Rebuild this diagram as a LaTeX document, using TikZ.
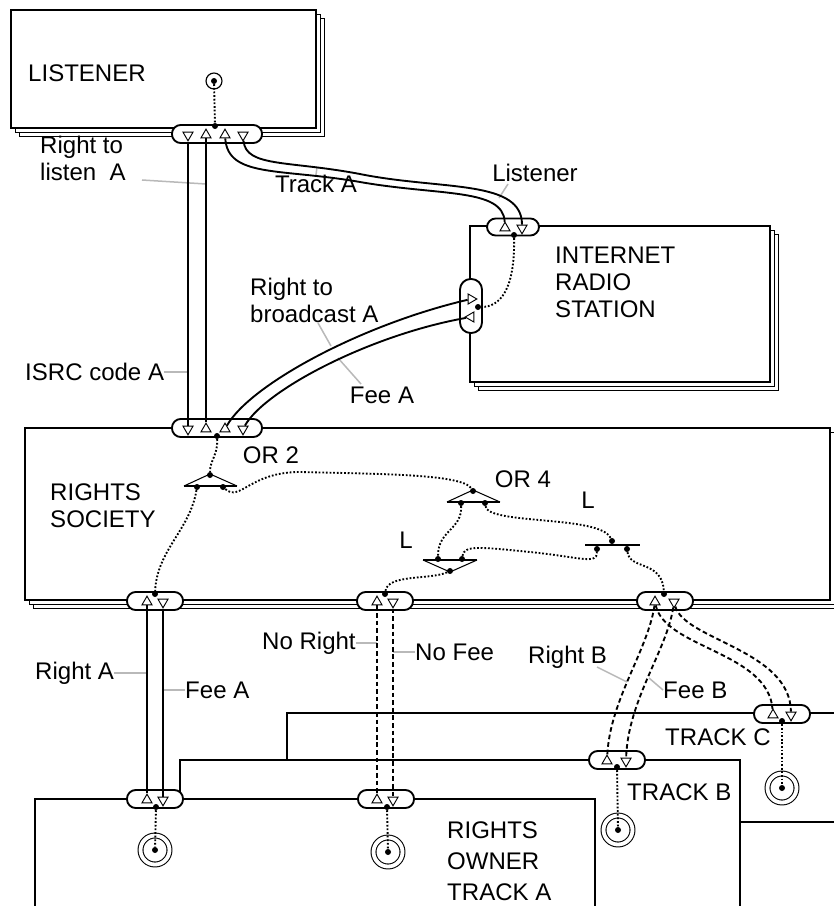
\documentclass[tikz,border=0pt]{standalone}
\usepackage{fontspec}
\setmainfont{Liberation Sans}
\usetikzlibrary{shapes.geometric,shadows}

\tikzset{
  actor/.style={draw, line width=1.6pt, fill=white},
  segment/.style={actor, double copy shadow={shadow xshift=1.2mm, shadow yshift=-1.2mm}},
  iface/.style={draw, line width=1.6pt, fill=white, rounded corners=2.6mm, inner sep=0pt,
    minimum width=16.8mm, minimum height=5.4mm},
  wide/.style={minimum width=27mm},
  up/.style={regular polygon, regular polygon sides=3, draw, line width=0.8pt, fill=white,
    inner sep=0pt, minimum size=3.5mm},
  down/.style={up, shape border rotate=180},
  rightport/.style={up, shape border rotate=-90},
  leftport/.style={up, shape border rotate=90},
  dot/.style={circle, fill, inner sep=0pt, minimum size=1.8mm},
  start/.style={circle, draw, line width=1pt, inner sep=0pt, minimum size=4.8mm},
  stop/.style={circle, draw, line width=0.9pt, double, double distance=1.15mm, inner sep=0pt,
    minimum size=8.7mm},
  xch/.style={line width=1.6pt},
  noxch/.style={xch, dash pattern=on 4pt off 2.5pt},
  dep/.style={line width=1.6pt, dash pattern=on 1.5pt off 1.6pt},
  lead/.style={gray!55, line width=1.3pt},
  orside/.style={line width=0.9pt},
  orbase/.style={line width=1.8pt},
  lab/.style={font=\fontsize{20.5pt}{23pt}\selectfont, inner sep=0pt, align=left}
}

\begin{document}
\begin{tikzpicture}[x=0.3mm, y=-0.3mm]
  \useasboundingbox (0,0) rectangle (834,906);

  % Actors and market segments, back to front.
  \draw[segment] (11,10) rectangle (316,128);
  \draw[segment] (470,226) rectangle (770,382);
  \draw[segment] (25,428) rectangle (830,600);
  \draw[actor] (287,713) rectangle (850,822);
  \draw[actor] (180,760) rectangle (740,930);
  \draw[actor] (35,799) rectangle (595,930);

  % Names of the actors.
  \node[lab, anchor=west] (listener) at (28,73) {LISTENER};
  \node[lab, anchor=west] (radio) at (555,282) {INTERNET\\RADIO\\STATION};
  \node[lab, anchor=west] (society) at (50,506) {RIGHTS\\SOCIETY};
  \node[lab, anchor=west, font=\fontsize{20.5pt}{26.4pt}\selectfont] (owner) at (447,861) {RIGHTS\\OWNER\\TRACK A};
  \node[lab, anchor=west] (trackb) at (627,792) {TRACK B};
  \node[lab, anchor=west] (trackc) at (665,737) {TRACK C};

  % Value exchange labels with their leaders.
  \node[lab, anchor=west] (rlisten) at (40,158) {Right to\\listen~ A};
  \coordinate (rlistenend) at (206,184);
  \draw[lead] (142,180) -- (rlistenend);
  \node[lab, anchor=west] (isrc) at (25,372) {ISRC code A};
  \coordinate (isrcend) at (188,372);
  \draw[lead] (isrc.east) -- (isrcend);
  \node[lab] (tracka) at (316,184) {Track A};
  \coordinate (trackaend) at (317,167);
  \draw[lead] (tracka.north) -- (trackaend);
  \node[lab] (lisname) at (535,173) {Listener};
  \coordinate (lisnameend) at (499,198);
  \draw[lead] (508,184) -- (lisnameend);
  \node[lab, anchor=west] (rbroad) at (250,300) {Right to\\broadcast A};
  \coordinate (rbroadend) at (331,346);
  \draw[lead] (318,323) -- (rbroadend);
  \node[lab] (feea) at (382,395) {Fee A};
  \coordinate (feeaend) at (338,358);
  \draw[lead] (361,384) -- (feeaend);
  \node[lab, anchor=west] (righta) at (35,673) {Right A};
  \coordinate (rightaend) at (147,673);
  \draw[lead] (righta.east) -- (rightaend);
  \node[lab, anchor=west] (feeal) at (185,690) {Fee A};
  \coordinate (feealend) at (163,690);
  \draw[lead] (feeal.west) -- (feealend);
  \node[lab, anchor=west] (noright) at (262,643) {No Right};
  \coordinate (norightend) at (377,643);
  \draw[lead] (noright.east) -- (norightend);
  \node[lab, anchor=west] (nofee) at (415,652) {No Fee};
  \coordinate (nofeeend) at (393,652);
  \draw[lead] (nofee.west) -- (nofeeend);
  \node[lab, anchor=west] (rightb) at (528,657) {Right B};
  \coordinate (rightbend) at (627,682);
  \draw[lead] (597,667) -- (rightbend);
  \node[lab, anchor=west] (feeb) at (663,690) {Fee B};
  \coordinate (feebend) at (649,678);
  \draw[lead] (feeb.west) -- (feebend);

  % Names of the logic elements.
  \node[lab] (or2lab) at (271,455) {OR 2};
  \node[lab] (or4lab) at (523,479) {OR 4};
  \node[lab] (l1lab) at (406,540) {L};
  \node[lab] (l2lab) at (588,500) {L};

  % Value interfaces.
  \node[iface, wide] (lisif) at (217,134) {};
  \node[iface, minimum width=15.6mm, minimum height=5.1mm] (radtop) at (513,227) {};
  \node[iface, minimum width=6.6mm, minimum height=16.2mm, rounded corners=3.2mm] (radleft) at (471,306) {};
  \node[iface, wide] (socif) at (217,428) {};
  \node[iface] (socl) at (155,601) {};
  \node[iface] (socm) at (385,601) {};
  \node[iface] (socr) at (665,601) {};
  \node[iface] (ownl) at (155,799) {};
  \node[iface] (ownm) at (386,799) {};
  \node[iface] (ownb) at (617,760) {};
  \node[iface] (ownc) at (782,714) {};

  % Value ports.
  \node[down] (lt1) at (188,135) {};
  \node[up] (lt2) at (206,135) {};
  \node[up] (lt3) at (225,135) {};
  \node[down] (lt4) at (243,135) {};
  \node[up] (ra1) at (505,228) {};
  \node[down] (ra2) at (522,228) {};
  \node[rightport] (rl1) at (471,299) {};
  \node[leftport] (rl2) at (471,317) {};
  \node[down] (st1) at (188,429) {};
  \node[up] (st2) at (206,429) {};
  \node[up] (st3) at (225,429) {};
  \node[down] (st4) at (243,429) {};
  \node[up] (sl1) at (147,602) {};
  \node[down] (sl2) at (163,602) {};
  \node[up] (sm1) at (377,602) {};
  \node[down] (sm2) at (393,602) {};
  \node[up] (sr1) at (655,602) {};
  \node[down] (sr2) at (674,602) {};
  \node[up] (ol1) at (147,800) {};
  \node[down] (ol2) at (163,800) {};
  \node[up] (om1) at (377,800) {};
  \node[down] (om2) at (393,800) {};
  \node[up] (ob1) at (607,761) {};
  \node[down] (ob2) at (626,761) {};
  \node[up] (oc1) at (773,715) {};
  \node[down] (oc2) at (791,715) {};

  % Value exchanges.
  \draw[xch] (lt1) -- (st1);
  \draw[xch] (lt2) -- (st2);
  \draw[xch] (lt3) .. controls (228,178) and (280,168) .. (360,182)
    .. controls (440,196) and (503,188) .. (ra1);
  \draw[xch] (lt4) .. controls (246,168) and (290,160) .. (365,175)
    .. controls (445,190) and (522,180) .. (ra2);
  \draw[xch] (st3) .. controls (250,385) and (360,325) .. (rl1);
  \draw[xch] (st4) .. controls (265,390) and (370,335) .. (rl2);
  \draw[xch] (sl1) -- (ol1);
  \draw[xch] (sl2) -- (ol2);
  \draw[noxch] (sm1) -- (om1);
  \draw[noxch] (sm2) -- (om2);
  \draw[noxch] (sr1) .. controls (648,650) and (610,700) .. (ob1);
  \draw[noxch] (sr2) .. controls (667,650) and (628,700) .. (ob2);
  \draw[noxch] (sr1) .. controls (665,648) and (768,652) .. (oc1);
  \draw[noxch] (sr2) .. controls (685,640) and (790,650) .. (oc2);

  % OR 2, OR 4, the lower fork and the AND bar.
  \draw[orside] (184,486) -- (210,474) -- (237,486);
  \draw[orbase] (184,486) -- (237,486);
  \draw[orside] (447,502) -- (473,490) -- (500,502);
  \draw[orbase] (447,502) -- (500,502);
  \draw[orside] (423,560) -- (450,572) -- (477,560);
  \draw[orbase] (423,560) -- (477,560);
  \draw[line width=2pt] (585,545) -- (640,545);

  % Connection points.
  \node[dot] (or2a) at (210,475) {};
  \node[dot] (or2l) at (197,487) {};
  \node[dot] (or2r) at (223,487) {};
  \node[dot] (or4a) at (473,491) {};
  \node[dot] (or4l) at (461,503) {};
  \node[dot] (or4r) at (485,503) {};
  \node[dot] (l1l) at (438,559) {};
  \node[dot] (l1r) at (462,559) {};
  \node[dot] (l1a) at (450,571) {};
  \node[dot] (l2t) at (612,541) {};
  \node[dot] (l2l) at (597,549) {};
  \node[dot] (l2r) at (627,549) {};
  \node[dot] (lisdep) at (215,126) {};
  \node[dot] (radtopdep) at (514,235) {};
  \node[dot] (radleftdep) at (478,307) {};
  \node[dot] (socdep) at (217,436) {};
  \node[dot] (socldep) at (155,594) {};
  \node[dot] (socmdep) at (385,594) {};
  \node[dot] (socrdep) at (664,594) {};
  \node[dot] (owlldep) at (156,807) {};
  \node[dot] (ownmdep) at (387,807) {};
  \node[dot] (ownbdep) at (617,767) {};
  \node[dot] (owncdep) at (782,721) {};

  % Start and stop stimuli.
  \node[start] (begin) at (214,81) {};
  \node[dot] (begindot) at (214,81) {};
  \node[stop] (enda) at (155,850) {};
  \node[dot] (endadot) at (155,850) {};
  \node[stop] (endn) at (388,852) {};
  \node[dot] (endndot) at (388,852) {};
  \node[stop] (endb) at (618,830) {};
  \node[dot] (endbdot) at (618,830) {};
  \node[stop] (endc) at (782,788) {};
  \node[dot] (endcdot) at (782,788) {};

  % Dependency paths.
  \draw[dep] (begindot) -- (lisdep);
  \draw[dep] (radtopdep) .. controls (515,290) and (500,307) .. (radleftdep);
  \draw[dep] (socdep) .. controls (218,455) and (210,460) .. (or2a);
  \draw[dep] (or2l) .. controls (190,530) and (157,550) .. (socldep);
  \draw[dep] (or2r) .. controls (240,502) and (250,472) .. (300,472)
    .. controls (380,474) and (462,474) .. (or4a);
  \draw[dep] (or4l) .. controls (462,530) and (438,530) .. (l1l);
  \draw[dep] (or4r) .. controls (488,525) and (600,515) .. (l2t);
  \draw[dep] (l1r) .. controls (464,545) and (480,547) .. (530,552)
    .. controls (580,557) and (597,565) .. (l2l);
  \draw[dep] (l1a) .. controls (430,580) and (388,574) .. (socmdep);
  \draw[dep] (l2r) .. controls (630,570) and (662,560) .. (socrdep);
  \draw[dep] (owlldep) -- (endadot);
  \draw[dep] (ownmdep) -- (endndot);
  \draw[dep] (ownbdep) -- (endbdot);
  \draw[dep] (owncdep) -- (endcdot);
\end{tikzpicture}
\end{document}
